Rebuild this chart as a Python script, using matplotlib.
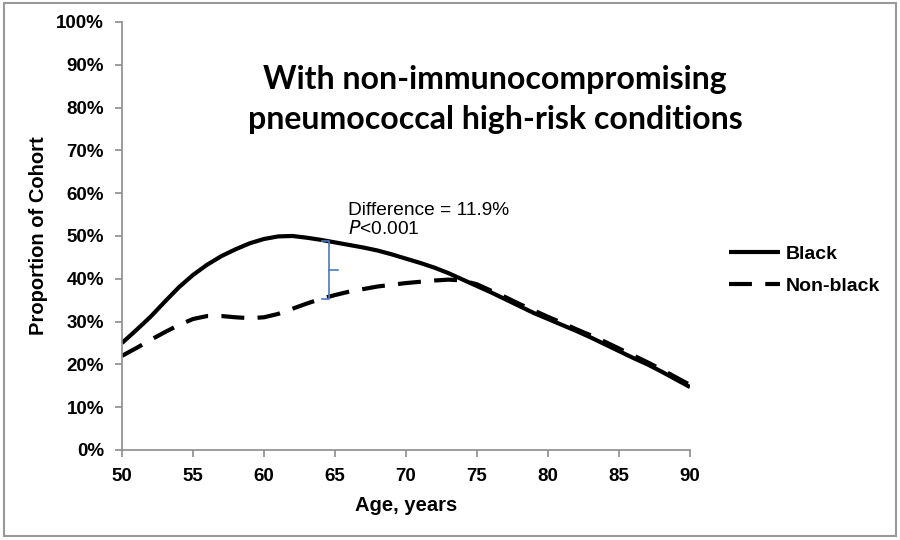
import matplotlib.pyplot as plt
import matplotlib.patches as patches
from matplotlib.ticker import FuncFormatter

# values (% of cohort), one per year of age
ages = list(range(50, 91))
black = [25, 28, 31.1, 34.6, 38, 40.9, 43.3, 45.3, 46.9, 48.3, 49.3,
         49.9, 50, 49.6, 49.1, 48.5, 47.9, 47.3, 46.6, 45.7, 44.7,
         43.7, 42.6, 41.3, 39.8, 38.3, 36.8, 35.2, 33.6, 32, 30.6,
         29.2, 27.8, 26.3, 24.7, 23.1, 21.5, 20, 18.3, 16.5, 14.7]
nonblack = [22, 23.8, 25.7, 27.5, 29.2, 30.6, 31.3, 31.3, 31, 30.8, 31,
            31.8, 33, 34.2, 35.3, 36.2, 37, 37.6, 38.2, 38.6, 39,
            39.3, 39.6, 39.8, 39.6, 38.7, 37.2, 35.7, 34.1, 32.6, 31.1,
            29.7, 28.2, 26.8, 25.3, 23.7, 22.1, 20.5, 18.8, 17, 15.2]

y_ticks = list(range(0, 101, 10))
x_ticks = list(range(50, 91, 5))

# bracket showing the difference
brace_x = 64.6
brace_top = 48.9
brace_bottom = 35.3
brace_color = '#4a78c2'

title_lines = ['With non-immunocompromising', 'pneumococcal high-risk conditions']

fig = plt.figure(figsize=(9, 5.4), dpi=100)
ax = fig.add_axes([0.1356, 0.1667, 0.6311, 0.7926])

ax.plot(ages, black, color='black', lw=3, solid_capstyle='butt', solid_joinstyle='round', label='Black')
ax.plot(ages, nonblack, color='black', lw=3, dashes=(5.5, 3.2), label='Non-black')

brace_mid = (brace_top + brace_bottom) / 2
ax.plot([brace_x - 0.55, brace_x, brace_x, brace_x - 0.55], [brace_top, brace_top, brace_bottom, brace_bottom],
        color=brace_color, lw=1.2)
ax.plot([brace_x, brace_x + 0.6], [brace_mid, brace_mid], color=brace_color, lw=1.2)

ax.text(65.9, 56, 'Difference = 11.9%', fontsize=13.8, family='Liberation Sans', va='center')
ax.text(65.9, 51.6, '$\\it{P}$<0.001', fontsize=13.8, family='Liberation Sans', va='center')

ax.set_xlim(50, 90)
ax.set_ylim(0, 100)
ax.set_xticks(x_ticks)
ax.set_yticks(y_ticks)
ax.yaxis.set_major_formatter(FuncFormatter(lambda v, p: f'{v:.0f}%'))
for s in ['top', 'right']:
    ax.spines[s].set_visible(False)
for s in ['left', 'bottom']:
    ax.spines[s].set_color('#8c8c8c')
    ax.spines[s].set_linewidth(1.2)
ax.tick_params(direction='out', length=5, color='#8c8c8c', width=1.2, pad=8)
for lab in ax.get_xticklabels() + ax.get_yticklabels():
    lab.set_fontfamily('Liberation Sans')
    lab.set_fontweight('bold')
    lab.set_fontsize(13.5)

ax.set_xlabel('Age, years', fontsize=14.5, fontweight='bold', family='Liberation Sans', labelpad=8)
ax.set_ylabel('Proportion of Cohort', fontsize=14.5, fontweight='bold', family='Liberation Sans', labelpad=6)

fig.text(0.55, 0.852, title_lines[0], ha='center', va='center', fontsize=23, fontweight='bold', family='Lato')
fig.text(0.55, 0.778, title_lines[1], ha='center', va='center', fontsize=23, fontweight='bold', family='Lato')

leg = fig.legend(loc='upper left', bbox_to_anchor=(0.791, 0.578), frameon=False, handlelength=2.6,
                 handletextpad=0.3, labelspacing=0.75,
                 prop={'family': 'Liberation Sans', 'weight': 'bold', 'size': 14})

fig.patches.append(patches.Rectangle((0.004, 0.008), 0.992, 0.986, transform=fig.transFigure,
                                     fill=False, edgecolor='#999999', lw=1.5))

fig.savefig('out.png', dpi=100)
